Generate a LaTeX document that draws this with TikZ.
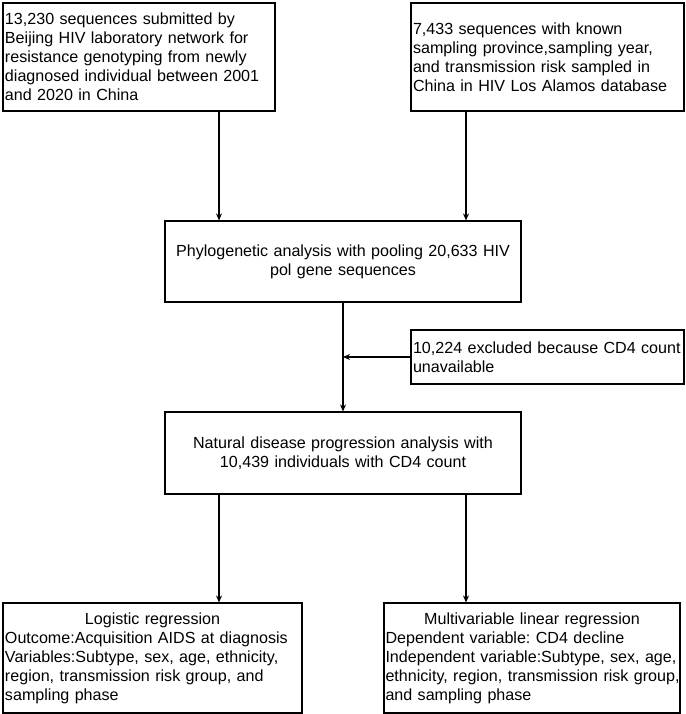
\documentclass[tikz,border=0pt]{standalone}
\usepackage{fontspec}
\setmainfont{Liberation Sans}
\usetikzlibrary{arrows.meta}
\frenchspacing
\begin{document}
\begin{tikzpicture}[x=1pt,y=1pt,
  box/.style={draw=black, line width=1.1pt, inner xsep=1.5pt, inner ysep=1pt,
    font=\fontsize{16.1}{19}\selectfont\frenchspacing},
  lowbox/.style={box},
  arr/.style={-{Stealth[length=7pt,width=6pt]}, line width=1.1pt}]
\useasboundingbox (0,0) rectangle (685,714);
\node[box, minimum width=272pt, minimum height=108pt, text width=268pt, align=left] (b1) at (139,657)
  {\mbox{13,230 sequences submitted by}\\\mbox{Beijing HIV laboratory network for}\\\mbox{resistance genotyping from newly}\\\mbox{diagnosed individual between 2001}\\\mbox{and 2020 in China}};
\node[box, minimum width=273pt, minimum height=108pt, text width=269pt, align=left] (b2) at (547.5,657)
  {\mbox{7,433 sequences with known}\\\mbox{sampling province,sampling year,}\\\mbox{and transmission risk sampled in}\\\mbox{China in HIV Los Alamos database}};
\node[box, minimum width=356pt, minimum height=81pt, text width=352pt, align=center] (b3) at (343,452.5)
  {\mbox{Phylogenetic analysis with pooling 20,633 HIV}\\\mbox{pol gene sequences}};
\node[box, minimum width=273pt, minimum height=54pt, text width=269pt, align=left] (ex) at (547.5,357)
  {\mbox{10,224 excluded because CD4 count}\\\mbox{unavailable}};
\node[box, minimum width=356pt, minimum height=82pt, text width=352pt, align=center] (b4) at (343,261)
  {\mbox{Natural disease progression analysis with}\\\mbox{10,439 individuals with CD4 count}};
\node[lowbox, minimum width=299pt, minimum height=110pt, text width=295pt, align=left] (b5) at (152.5,56)
  {\makebox[295pt][c]{Logistic regression}\\\mbox{Outcome:Acquisition AIDS at diagnosis}\\\mbox{Variables:Subtype, sex, age, ethnicity,}\\\mbox{region, transmission risk group, and}\\\mbox{sampling phase}};
\node[lowbox, minimum width=296pt, minimum height=110pt, text width=293pt, align=left] (b6) at (532,56)
  {\makebox[293pt][c]{Multivariable linear regression}\\\mbox{Dependent variable: CD4 decline}\\\mbox{Independent variable:Subtype, sex, age,}\\\mbox{ethnicity, region, transmission risk group,}\\\mbox{and sampling phase}};
\coordinate (cl) at (219,0);
\coordinate (cr) at (466,0);
\draw[arr] (b1.south -| cl) -- (b3.north -| cl);
\draw[arr] (b2.south -| cr) -- (b3.north -| cr);
\draw[arr] (b3.south) -- (b4.north);
\draw[arr] (ex.west) -- (ex.west -| b3.south);
\draw[arr] (b4.south -| cl) -- (b5.north -| cl);
\draw[arr] (b4.south -| cr) -- (b6.north -| cr);
\end{tikzpicture}
\end{document}
